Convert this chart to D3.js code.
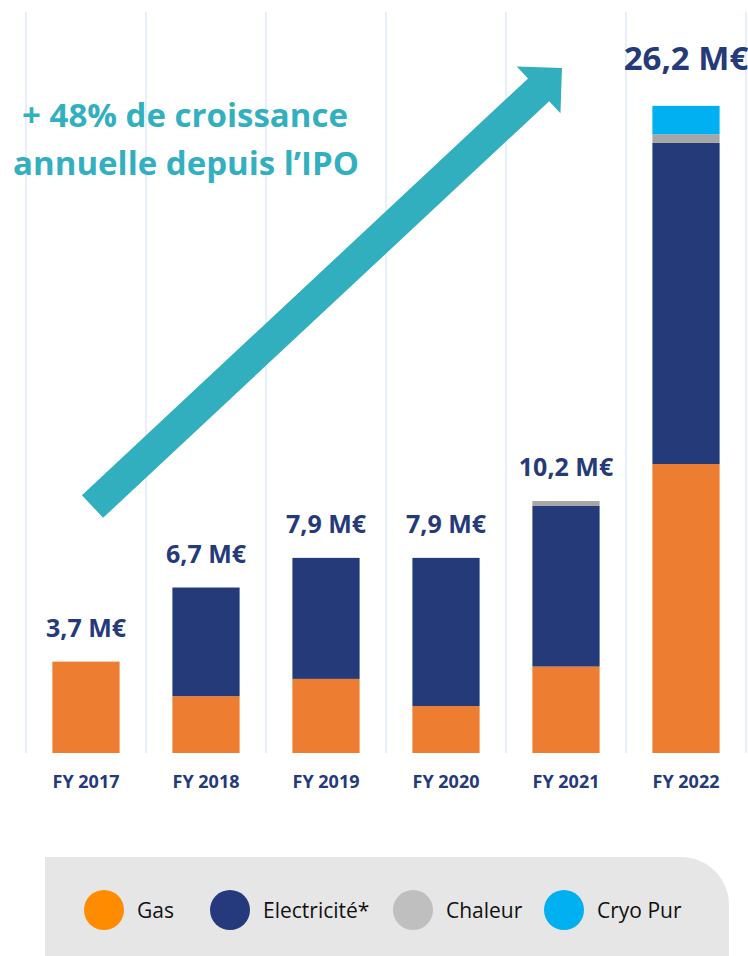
<!DOCTYPE html>
<html>
<head>
<meta charset="utf-8">
<script src="https://cdn.jsdelivr.net/npm/d3@7"></script>
<style>
  html, body { margin: 0; padding: 0; background: #fff; }
  svg text { font-family: "Open Sans", "DejaVu Sans", sans-serif; }
</style>
</head>
<body>
<svg id="chart" width="748" height="956"></svg>
<script>
// Chart data (M€)
const years = ["FY 2017", "FY 2018", "FY 2019", "FY 2020", "FY 2021", "FY 2022"];
const gas = [3.7, 2.3, 3.0, 1.9, 3.5, 11.7];
const electricite = [0, 4.4, 4.9, 6.0, 6.5, 13.0];
const chaleur = [0, 0, 0, 0, 0.2, 0.35];
const cryoPur = [0, 0, 0, 0, 0, 1.15];
const totals = ["3,7 M€", "6,7 M€", "7,9 M€", "7,9 M€", "10,2 M€", "26,2 M€"];

const seriesNames = ["Gas", "Electricité*", "Chaleur", "Cryo Pur"];
const barColors = ["#ed7d31", "#253a78", "#a6a6a6", "#00b0f0"];
const legendColors = ["#ff8c00", "#253a7d", "#bfbfbf", "#00b0f0"];

const svg = d3.select("#chart");

// Scales
const x = d3.scaleBand().domain(years).range([26, 746]).paddingInner(0.44).paddingOuter(0.22);
const y = d3.scaleLinear().domain([0, 30]).range([753, 12]);

// Vertical grid lines at band boundaries
const step = x.step();
const gridX = d3.range(years.length + 1).map(i => 26 + i * step);
svg.append("g")
  .selectAll("line")
  .data(gridX)
  .join("line")
  .attr("x1", d => d).attr("x2", d => d)
  .attr("y1", y(30)).attr("y2", y(0))
  .attr("stroke", "#e8eefb")
  .attr("stroke-width", 2);

// Stack
const rows = years.map((yr, i) => ({
  year: yr,
  "Gas": gas[i],
  "Electricité*": electricite[i],
  "Chaleur": chaleur[i],
  "Cryo Pur": cryoPur[i]
}));
const stacked = d3.stack().keys(seriesNames)(rows);

svg.append("g")
  .selectAll("g")
  .data(stacked)
  .join("g")
  .attr("fill", (d, i) => barColors[i])
  .selectAll("rect")
  .data(d => d)
  .join("rect")
  .attr("x", d => x(d.data.year))
  .attr("width", x.bandwidth())
  .attr("y", d => y(d[1]))
  .attr("height", d => y(d[0]) - y(d[1]));

// Total labels
const lastIdx = years.length - 1;
svg.append("g")
  .selectAll("text")
  .data(years)
  .join("text")
  .attr("x", d => x(d) + x.bandwidth() / 2)
  .attr("y", (d, i) => {
    const top = gas[i] + electricite[i] + chaleur[i] + cryoPur[i];
    return y(top) - (i === lastIdx ? 36 : 25);
  })
  .attr("text-anchor", "middle")
  .attr("fill", "#253a78")
  .attr("font-weight", 700)
  .attr("font-size", (d, i) => i === lastIdx ? 33 : 25)
  .text((d, i) => totals[i]);

// X axis labels
const xAxis = svg.append("g")
  .attr("transform", `translate(0,${y(0)})`)
  .call(d3.axisBottom(x).tickSize(0).tickPadding(22));
xAxis.select(".domain").remove();
xAxis.selectAll("text")
  .attr("fill", "#253a78")
  .attr("font-weight", 700)
  .attr("font-size", 18)
  .style("font-family", "'Open Sans', sans-serif");

// Growth arrow
const tail = [92.5, 506.5], tip = [562, 68];
const shaftW = 31, headW = 64, headL = 32;
const ang = Math.atan2(tip[1] - tail[1], tip[0] - tail[0]);
const ux = Math.cos(ang), uy = Math.sin(ang);
const nx = -uy, ny = ux;
const total = Math.hypot(tip[0] - tail[0], tip[1] - tail[1]);
const baseC = [tail[0] + ux * (total - headL), tail[1] + uy * (total - headL)];
const pt = (c, k) => [c[0] + nx * k, c[1] + ny * k];
const arrowPts = [
  pt(tail, -shaftW / 2),
  pt(baseC, -shaftW / 2),
  pt(baseC, -headW / 2),
  tip,
  pt(baseC, headW / 2),
  pt(baseC, shaftW / 2),
  pt(tail, shaftW / 2)
];
svg.append("polygon")
  .attr("points", arrowPts.map(p => p.join(",")).join(" "))
  .attr("fill", "#32afbf");

// Headline
const headline = svg.append("text")
  .attr("text-anchor", "middle")
  .attr("fill", "#33b0c0")
  .attr("font-weight", 700)
  .attr("font-size", 33);
headline.append("tspan").attr("x", 185).attr("y", 127).text("+ 48% de croissance");
headline.append("tspan").attr("x", 186).attr("y", 175).text("annuelle depuis l’IPO");

// Legend box with rounded top-right corner
const bx = 45, by = 857, bw = 684, r = 48;
svg.append("path")
  .attr("d", `M${bx},${by} H${bx + bw - r} A${r},${r} 0 0 1 ${bx + bw},${by + r} V956 H${bx} Z`)
  .attr("fill", "#e6e6e6");

const legendX = [104, 230, 413, 564];
const legend = svg.append("g")
  .selectAll("g")
  .data(seriesNames)
  .join("g")
  .attr("transform", (d, i) => `translate(${legendX[i]},910)`);
legend.append("circle")
  .attr("r", 20)
  .attr("fill", (d, i) => legendColors[i]);
legend.append("text")
  .attr("x", 33)
  .attr("y", 8)
  .attr("font-size", 21)
  .attr("fill", "#111")
  .text(d => d);
</script>
</body>
</html>
